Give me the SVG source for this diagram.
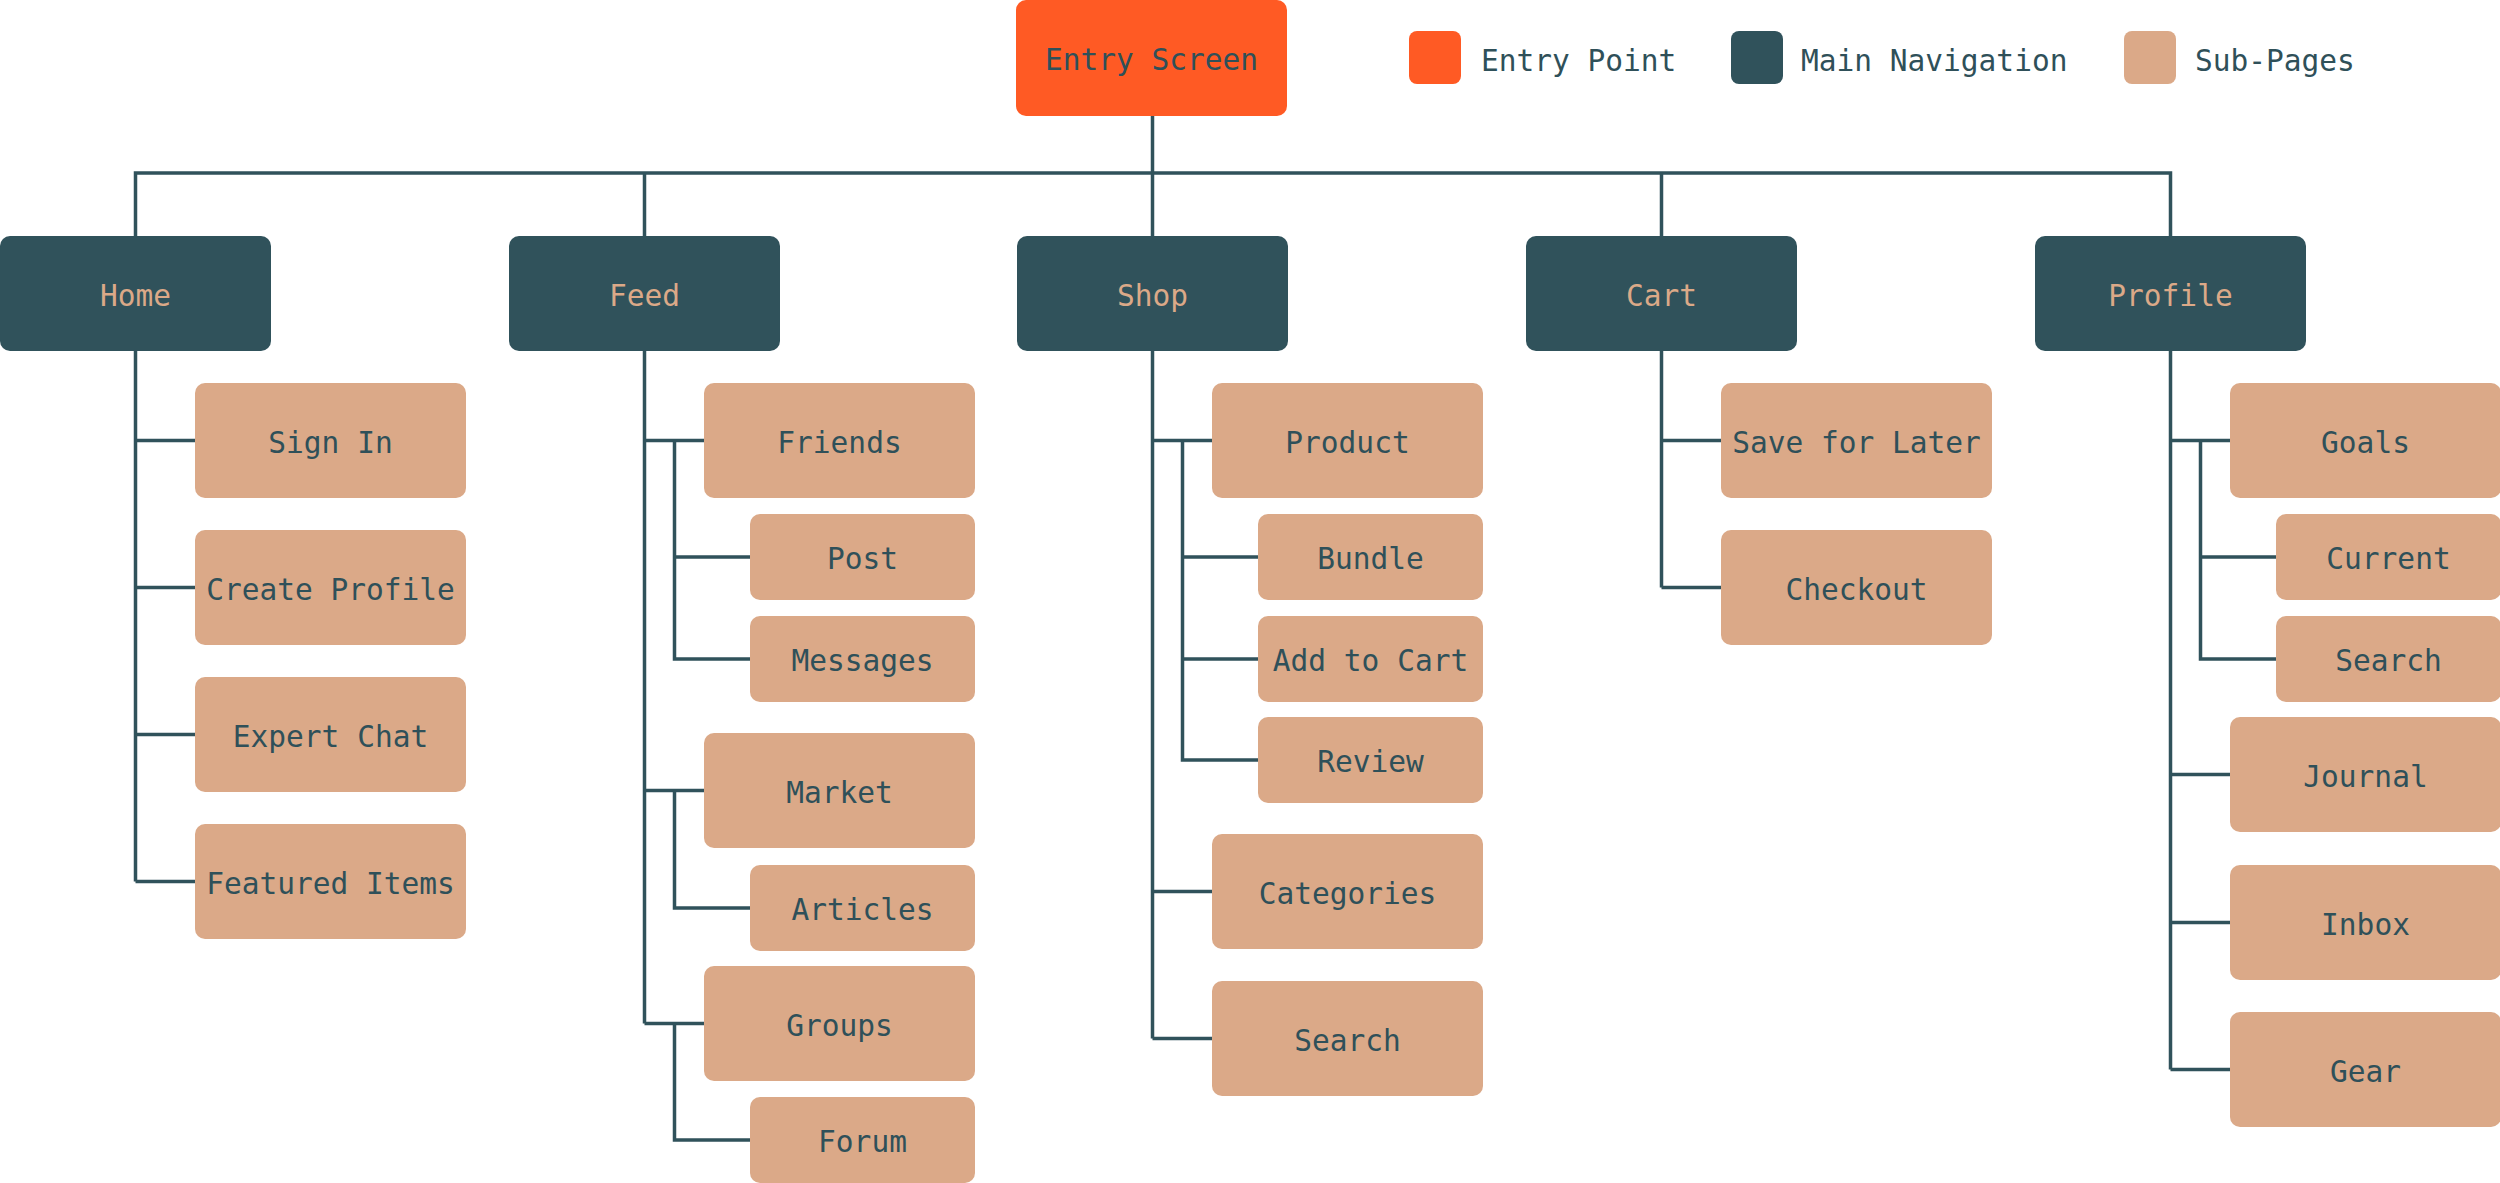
<svg xmlns="http://www.w3.org/2000/svg" width="2500" height="1183" viewBox="0 0 2500 1183">
<style>
text{font-family:"DejaVu Sans Mono","Liberation Mono",monospace;font-size:29.5px;text-anchor:middle}
.entry{fill:#FF5A24}
.nav{fill:#30525B}
.sub{fill:#DBA988}
.tn{fill:#DBA988}
.td{fill:#2F5059}
.lg{text-anchor:start}
.c{fill:none;stroke:#30525B;stroke-width:3.5}
</style>
<rect width="2500" height="1183" fill="#FFFFFF"/>
<g id="connectors" class="c">
<path d="M1152.5 116V173M135.5 236V173H2170.5V236M644.5 173V236M1152.5 173V236M1661.5 173V236"/>
<path d="M135.5 351V881.5M135.5 440.5H195M135.5 587.5H195M135.5 734.5H195M135.5 881.5H195"/>
<path d="M644.5 351V1023.5M644.5 440.5H704M644.5 790.5H704M644.5 1023.5H704"/>
<path d="M674.5 440.5V659H750M674.5 557H750M674.5 790.5V908H750M674.5 1023.5V1140H750"/>
<path d="M1152.5 351V1038.5M1152.5 440.5H1212M1152.5 891.5H1212M1152.5 1038.5H1212"/>
<path d="M1182.5 440.5V760H1258M1182.5 557H1258M1182.5 659H1258"/>
<path d="M1661.5 351V587.5M1661.5 440.5H1721M1661.5 587.5H1721"/>
<path d="M2170.5 351V1069.5M2170.5 440.5H2230M2170.5 774.5H2230M2170.5 922.5H2230M2170.5 1069.5H2230"/>
<path d="M2200.5 440.5V659H2276M2200.5 557H2276"/>
</g>
<g id="entry-screen"><rect class="entry" x="1016" y="0" width="271" height="116" rx="10"/><text class="td" x="1151.5" y="70">Entry Screen</text></g>
<g id="legend-entry"><rect class="entry" x="1409" y="31" width="52" height="53" rx="8"/><text class="td lg" x="1481" y="71">Entry Point</text></g>
<g id="legend-nav"><rect class="nav" x="1731" y="31" width="52" height="53" rx="8"/><text class="td lg" x="1801" y="71">Main Navigation</text></g>
<g id="legend-sub"><rect class="sub" x="2124" y="31" width="52" height="53" rx="8"/><text class="td lg" x="2195" y="71">Sub-Pages</text></g>

<g id="home"><rect class="nav" x="0" y="236" width="271" height="115" rx="10"/><text class="tn" x="135.5" y="305.5">Home</text></g>
<g id="feed"><rect class="nav" x="509" y="236" width="271" height="115" rx="10"/><text class="tn" x="644.5" y="305.5">Feed</text></g>
<g id="shop"><rect class="nav" x="1017" y="236" width="271" height="115" rx="10"/><text class="tn" x="1152.5" y="305.5">Shop</text></g>
<g id="cart"><rect class="nav" x="1526" y="236" width="271" height="115" rx="10"/><text class="tn" x="1661.5" y="305.5">Cart</text></g>
<g id="profile"><rect class="nav" x="2035" y="236" width="271" height="115" rx="10"/><text class="tn" x="2170.5" y="305.5">Profile</text></g>

<g id="sign-in"><rect class="sub" x="195" y="383" width="271" height="115" rx="10"/><text class="td" x="330.5" y="452.5">Sign In</text></g>
<g id="create-profile"><rect class="sub" x="195" y="530" width="271" height="115" rx="10"/><text class="td" x="330.5" y="599.5">Create Profile</text></g>
<g id="expert-chat"><rect class="sub" x="195" y="677" width="271" height="115" rx="10"/><text class="td" x="330.5" y="746.5">Expert Chat</text></g>
<g id="featured-items"><rect class="sub" x="195" y="824" width="271" height="115" rx="10"/><text class="td" x="330.5" y="893.5">Featured Items</text></g>

<g id="friends"><rect class="sub" x="704" y="383" width="271" height="115" rx="10"/><text class="td" x="839.5" y="452.5">Friends</text></g>
<g id="post"><rect class="sub" x="750" y="514" width="225" height="86" rx="10"/><text class="td" x="862.5" y="569">Post</text></g>
<g id="messages"><rect class="sub" x="750" y="616" width="225" height="86" rx="10"/><text class="td" x="862.5" y="671">Messages</text></g>
<g id="market"><rect class="sub" x="704" y="733" width="271" height="115" rx="10"/><text class="td" x="839.5" y="802.5">Market</text></g>
<g id="articles"><rect class="sub" x="750" y="865" width="225" height="86" rx="10"/><text class="td" x="862.5" y="920">Articles</text></g>
<g id="groups"><rect class="sub" x="704" y="966" width="271" height="115" rx="10"/><text class="td" x="839.5" y="1035.5">Groups</text></g>
<g id="forum"><rect class="sub" x="750" y="1097" width="225" height="86" rx="10"/><text class="td" x="862.5" y="1152">Forum</text></g>

<g id="product"><rect class="sub" x="1212" y="383" width="271" height="115" rx="10"/><text class="td" x="1347.5" y="452.5">Product</text></g>
<g id="bundle"><rect class="sub" x="1258" y="514" width="225" height="86" rx="10"/><text class="td" x="1370.5" y="569">Bundle</text></g>
<g id="add-to-cart"><rect class="sub" x="1258" y="616" width="225" height="86" rx="10"/><text class="td" x="1370.5" y="671">Add to Cart</text></g>
<g id="review"><rect class="sub" x="1258" y="717" width="225" height="86" rx="10"/><text class="td" x="1370.5" y="772">Review</text></g>
<g id="categories"><rect class="sub" x="1212" y="834" width="271" height="115" rx="10"/><text class="td" x="1347.5" y="903.5">Categories</text></g>
<g id="shop-search"><rect class="sub" x="1212" y="981" width="271" height="115" rx="10"/><text class="td" x="1347.5" y="1050.5">Search</text></g>

<g id="save-for-later"><rect class="sub" x="1721" y="383" width="271" height="115" rx="10"/><text class="td" x="1856.5" y="452.5">Save for Later</text></g>
<g id="checkout"><rect class="sub" x="1721" y="530" width="271" height="115" rx="10"/><text class="td" x="1856.5" y="599.5">Checkout</text></g>

<g id="goals"><rect class="sub" x="2230" y="383" width="271" height="115" rx="10"/><text class="td" x="2365.5" y="452.5">Goals</text></g>
<g id="current"><rect class="sub" x="2276" y="514" width="225" height="86" rx="10"/><text class="td" x="2388.5" y="569">Current</text></g>
<g id="profile-search"><rect class="sub" x="2276" y="616" width="225" height="86" rx="10"/><text class="td" x="2388.5" y="671">Search</text></g>
<g id="journal"><rect class="sub" x="2230" y="717" width="271" height="115" rx="10"/><text class="td" x="2365.5" y="786.5">Journal</text></g>
<g id="inbox"><rect class="sub" x="2230" y="865" width="271" height="115" rx="10"/><text class="td" x="2365.5" y="934.5">Inbox</text></g>
<g id="gear"><rect class="sub" x="2230" y="1012" width="271" height="115" rx="10"/><text class="td" x="2365.5" y="1081.5">Gear</text></g>
</svg>
